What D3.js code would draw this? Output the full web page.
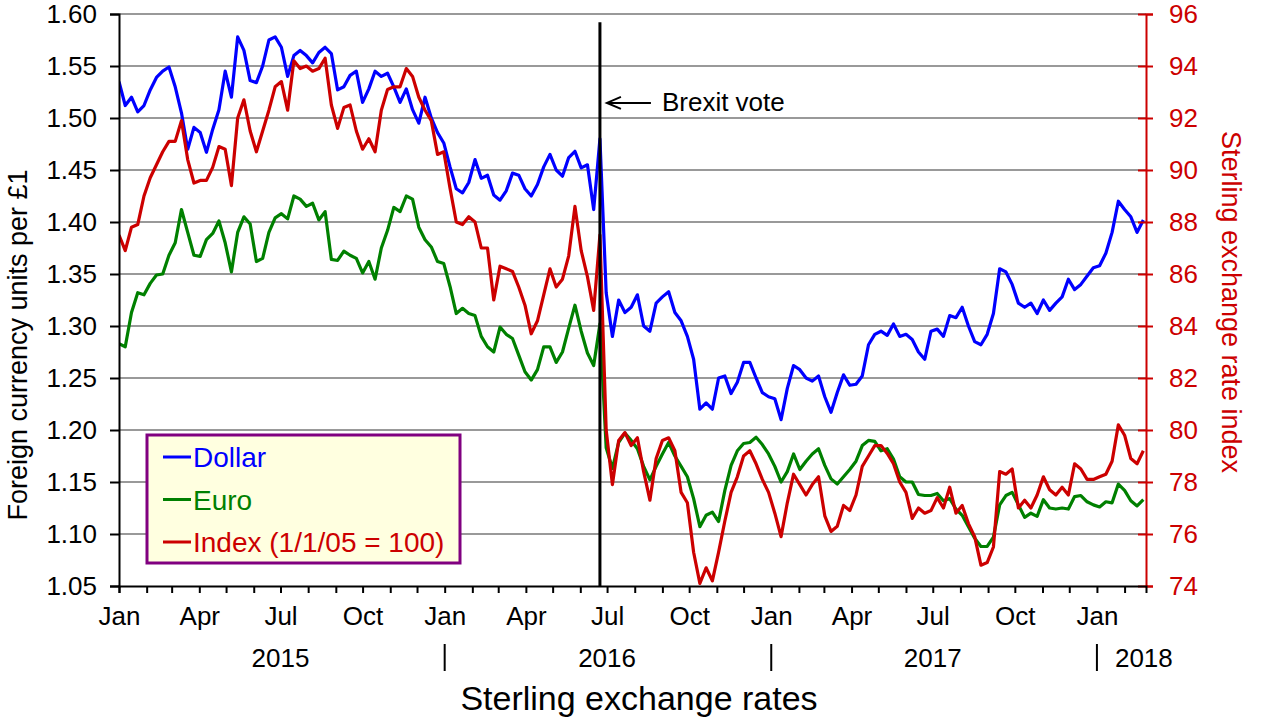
<!DOCTYPE html>
<html>
<head>
<meta charset="utf-8">
<script src="https://cdn.jsdelivr.net/npm/d3@7"></script>
<style>
  body { margin: 0; background: #fff; }
  svg text { font-family: Arial, "Liberation Sans", sans-serif; }
</style>
</head>
<body>
<svg id="chart" width="1280" height="720"></svg>
<script>
// weekly readings (Thursdays) starting 1 Jan 2015
const firstDate = "2015-01-01";
const stepDays = 7;

const dollar = [
  1.535, 1.512, 1.520, 1.506, 1.512, 1.527, 1.539, 1.545, 1.549, 1.530,
  1.505, 1.470, 1.491, 1.486, 1.467, 1.489, 1.508, 1.545, 1.520, 1.578,
  1.565, 1.536, 1.534, 1.550, 1.575, 1.578, 1.568, 1.540, 1.560, 1.565,
  1.560, 1.553, 1.563, 1.568, 1.562, 1.527, 1.530, 1.541, 1.545, 1.515,
  1.528, 1.545, 1.540, 1.543, 1.530, 1.515, 1.528, 1.508, 1.495, 1.520,
  1.500, 1.486, 1.476, 1.453, 1.432, 1.428, 1.438, 1.460, 1.442, 1.445,
  1.426, 1.421, 1.430, 1.447, 1.445, 1.432, 1.425, 1.436, 1.453, 1.465,
  1.450, 1.444, 1.462, 1.468, 1.452, 1.455, 1.412, 1.480, 1.332, 1.290,
  1.325, 1.313, 1.318, 1.330, 1.300, 1.295, 1.322, 1.328, 1.333, 1.313,
  1.305, 1.290, 1.268, 1.220, 1.226, 1.220, 1.250, 1.252, 1.235, 1.246,
  1.265, 1.265, 1.250, 1.236, 1.232, 1.230, 1.210, 1.240, 1.262, 1.258,
  1.250, 1.247, 1.252, 1.232, 1.217, 1.236, 1.253, 1.243, 1.244, 1.252,
  1.282, 1.292, 1.295, 1.291, 1.302, 1.290, 1.292, 1.287, 1.275, 1.268,
  1.295, 1.297, 1.290, 1.310, 1.308, 1.318, 1.300, 1.285, 1.282, 1.292,
  1.312, 1.355, 1.352, 1.340, 1.322, 1.318, 1.322, 1.312, 1.325, 1.315,
  1.322, 1.328, 1.345, 1.335, 1.340, 1.348, 1.356, 1.358, 1.370, 1.390,
  1.420, 1.412, 1.405, 1.390, 1.402
];

const euro = [
  1.283, 1.280, 1.313, 1.332, 1.330, 1.341, 1.349, 1.350, 1.368, 1.380,
  1.412, 1.390, 1.368, 1.367, 1.383, 1.389, 1.401, 1.380, 1.352, 1.390,
  1.405, 1.398, 1.362, 1.365, 1.390, 1.404, 1.408, 1.403, 1.425, 1.422,
  1.415, 1.418, 1.402, 1.410, 1.364, 1.363, 1.372, 1.368, 1.365, 1.351,
  1.362, 1.345, 1.375, 1.392, 1.414, 1.410, 1.425, 1.422, 1.395, 1.383,
  1.376, 1.362, 1.360, 1.338, 1.312, 1.317, 1.312, 1.310, 1.290, 1.280,
  1.275, 1.299, 1.292, 1.288, 1.272, 1.256, 1.248, 1.258, 1.280, 1.280,
  1.265, 1.275, 1.298, 1.320, 1.295, 1.274, 1.262, 1.302, 1.183, 1.163,
  1.188, 1.197, 1.190, 1.182, 1.165, 1.152, 1.165, 1.177, 1.188, 1.175,
  1.165, 1.155, 1.134, 1.107, 1.118, 1.121, 1.112, 1.142, 1.166, 1.180,
  1.187, 1.188, 1.193, 1.186, 1.177, 1.165, 1.150, 1.160, 1.177, 1.162,
  1.170, 1.177, 1.182, 1.166, 1.153, 1.148, 1.155, 1.162, 1.170, 1.185,
  1.190, 1.189, 1.180, 1.182, 1.172, 1.155, 1.150, 1.150, 1.138, 1.137,
  1.137, 1.139, 1.132, 1.134, 1.124, 1.118, 1.107, 1.096, 1.088, 1.088,
  1.097, 1.128, 1.137, 1.140, 1.128, 1.116, 1.120, 1.117, 1.133, 1.125,
  1.124, 1.125, 1.124, 1.136, 1.137, 1.131, 1.128, 1.126, 1.131, 1.130,
  1.148, 1.142, 1.132, 1.127, 1.133
];

const sterlingIndex = [
  87.5, 86.9, 87.8, 87.9, 89.0, 89.7, 90.2, 90.7, 91.1, 91.1,
  91.9, 90.4, 89.5, 89.6, 89.6, 90.1, 90.9, 90.8, 89.4, 92.0,
  92.7, 91.5, 90.7, 91.5, 92.3, 93.2, 93.4, 92.3, 94.2, 93.9,
  94.0, 93.8, 93.9, 94.3, 92.5, 91.6, 92.4, 92.5, 91.5, 90.8,
  91.2, 90.7, 92.3, 93.1, 93.2, 93.2, 93.9, 93.6, 92.8, 92.3,
  91.9, 90.6, 90.7, 89.3, 88.0, 87.9, 88.2, 88.0, 87.0, 87.0,
  85.0, 86.3, 86.2, 86.1, 85.5, 84.8, 83.7, 84.2, 85.2, 86.2,
  85.5, 85.8, 86.7, 88.6, 86.9, 85.9, 84.6, 87.5, 80.0, 77.9,
  79.6, 79.9, 79.4, 79.7, 78.4, 77.3, 78.9, 79.6, 79.7, 79.2,
  77.6, 77.2, 75.3, 74.1, 74.7, 74.2, 75.3, 76.5, 77.6, 78.2,
  79.0, 79.2, 78.7, 78.1, 77.6, 76.8, 75.9, 77.2, 78.3, 77.9,
  77.5, 77.9, 78.2, 76.7, 76.1, 76.3, 77.1, 76.9, 77.5, 78.6,
  79.0, 79.4, 79.4, 79.1, 78.7, 78.0, 77.6, 76.6, 77.0, 76.8,
  76.9, 77.4, 77.0, 77.8, 76.8, 77.1, 76.4, 75.9, 74.8, 74.9,
  75.5, 78.4, 78.3, 78.5, 77.0, 77.3, 77.0, 77.5, 78.2, 77.7,
  77.5, 77.8, 77.5, 78.7, 78.5, 78.1, 78.1, 78.2, 78.3, 78.8,
  80.2, 79.8, 78.9, 78.7, 79.2
];

const leftTicks = [1.05, 1.10, 1.15, 1.20, 1.25, 1.30, 1.35, 1.40, 1.45, 1.50, 1.55, 1.60];
const rightTicks = [74, 76, 78, 80, 82, 84, 86, 88, 90, 92, 94, 96];
const quarterNames = ["Jan", "Apr", "Jul", "Oct"];
const yearLabels = ["2015", "2016", "2017", "2018"];
const seriesNames = ["Dollar", "Euro", "Index (1/1/05 = 100)"];
const seriesColors = ["#0000ff", "#008000", "#cc0000"];
const brexitDate = "2016-06-23";
const brexitTop = 1.592;
const brexitArrowLevel = 1.5145;

const settings = {
  left: 119,
  right: 1146,
  top: 14,
  bottom: 586,
  startDate: new Date(2015, 0, 1),
  endDate: new Date(2018, 1, 25),
  gridColor: "#999999",
  axisRed: "#cc0000"
};

const parseDate = d3.timeParse("%Y-%m-%d");
const dates = dollar.map((_, i) => d3.timeDay.offset(parseDate(firstDate), i * stepDays));

const svg = d3.select("#chart");

const x = d3.scaleTime()
  .domain([settings.startDate, settings.endDate])
  .range([settings.left, settings.right]);

const yLeft = d3.scaleLinear()
  .domain([1.05, 1.60])
  .range([settings.bottom, settings.top]);

const yRight = d3.scaleLinear()
  .domain([74, 96])
  .range([settings.bottom, settings.top]);

// horizontal gridlines
svg.append("g")
  .selectAll("line")
  .data(leftTicks.slice(1))
  .join("line")
  .attr("x1", settings.left)
  .attr("x2", settings.right)
  .attr("y1", d => yLeft(d))
  .attr("y2", d => yLeft(d))
  .attr("stroke", settings.gridColor)
  .attr("stroke-width", 2);

// series
svg.append("clipPath")
  .attr("id", "plot-clip")
  .append("rect")
  .attr("x", settings.left)
  .attr("y", settings.top - 2)
  .attr("width", settings.right - settings.left)
  .attr("height", settings.bottom - settings.top + 2);

const lines = [
  { values: dollar, scale: yLeft },
  { values: euro, scale: yLeft },
  { values: sterlingIndex, scale: yRight }
];

const plot = svg.append("g").attr("clip-path", "url(#plot-clip)");

lines.forEach((s, k) => {
  const line = d3.line()
    .x((d, i) => x(dates[i]))
    .y(d => s.scale(d));
  plot.append("path")
    .datum(s.values)
    .attr("fill", "none")
    .attr("stroke", seriesColors[k])
    .attr("stroke-width", 3.2)
    .attr("stroke-linejoin", "round")
    .attr("d", line);
});

// left axis
const leftAxis = svg.append("g")
  .attr("transform", `translate(${settings.left},0)`)
  .call(d3.axisLeft(yLeft)
    .tickValues(leftTicks)
    .tickFormat(d3.format(".2f"))
    .tickSize(9)
    .tickPadding(13));
leftAxis.select(".domain").attr("stroke", "#000").attr("stroke-width", 2);
leftAxis.selectAll(".tick line").attr("stroke", "#000").attr("stroke-width", 2);
leftAxis.selectAll(".tick text")
  .attr("fill", "#000")
  .attr("font-size", 26)
  .attr("font-family", "Arial, 'Liberation Sans', sans-serif");

// right axis
const rightAxis = svg.append("g")
  .attr("transform", `translate(${settings.right},0)`)
  .call(d3.axisRight(yRight)
    .tickValues(rightTicks)
    .tickSize(7)
    .tickPadding(16));
rightAxis.select(".domain").attr("stroke", settings.axisRed).attr("stroke-width", 2);
rightAxis.selectAll(".tick line")
  .attr("x1", -8)
  .attr("stroke", settings.axisRed)
  .attr("stroke-width", 2);
rightAxis.selectAll(".tick text")
  .attr("fill", settings.axisRed)
  .attr("font-size", 26)
  .attr("font-family", "Arial, 'Liberation Sans', sans-serif");

// bottom axis, monthly ticks, quarterly labels
const bottomAxis = svg.append("g")
  .attr("transform", `translate(0,${settings.bottom})`)
  .call(d3.axisBottom(x)
    .ticks(d3.timeMonth.every(1))
    .tickSize(7)
    .tickPadding(14)
    .tickFormat(d => d.getMonth() % 3 === 0 ? quarterNames[d.getMonth() / 3] : ""));
bottomAxis.select(".domain").attr("stroke", "#000").attr("stroke-width", 2);
bottomAxis.selectAll(".tick line").attr("stroke", "#000").attr("stroke-width", 2);
bottomAxis.selectAll(".tick text")
  .attr("fill", "#000")
  .attr("font-size", 26)
  .attr("font-family", "Arial, 'Liberation Sans', sans-serif");

// year labels and separators
const yearGroup = svg.append("g").attr("font-size", 26).attr("fill", "#000");
yearLabels.forEach((label, k) => {
  const yr = +label;
  const isLast = k === yearLabels.length - 1;
  yearGroup.append("text")
    .attr("x", isLast ? x(new Date(yr, 0, 1)) + 18 : x(new Date(yr, 6, 1)))
    .attr("y", 667)
    .attr("text-anchor", isLast ? "start" : "middle")
    .text(label);
  if (k > 0) {
    yearGroup.append("line")
      .attr("x1", x(new Date(yr, 0, 1)))
      .attr("x2", x(new Date(yr, 0, 1)))
      .attr("y1", 644)
      .attr("y2", 671)
      .attr("stroke", "#000")
      .attr("stroke-width", 2);
  }
});

// Brexit vote marker
const bx = x(parseDate(brexitDate));
svg.append("line")
  .attr("x1", bx)
  .attr("x2", bx)
  .attr("y1", yLeft(brexitTop))
  .attr("y2", settings.bottom)
  .attr("stroke", "#000")
  .attr("stroke-width", 3);

const ay = yLeft(brexitArrowLevel);
const arrow = svg.append("g").attr("stroke", "#000").attr("stroke-width", 2).attr("fill", "none");
arrow.append("line").attr("x1", bx + 7).attr("x2", bx + 51).attr("y1", ay).attr("y2", ay);
arrow.append("polyline")
  .attr("points", `${bx + 21},${ay - 6} ${bx + 7},${ay} ${bx + 21},${ay + 6}`);
svg.append("text")
  .attr("x", bx + 62)
  .attr("y", ay + 8)
  .attr("font-size", 26)
  .attr("fill", "#000")
  .text("Brexit vote");

// axis titles
svg.append("text")
  .attr("transform", "translate(27,345) rotate(-90)")
  .attr("text-anchor", "middle")
  .attr("font-size", 27)
  .attr("fill", "#000")
  .text("Foreign currency units per £1");

svg.append("text")
  .attr("transform", "translate(1222,302) rotate(90)")
  .attr("text-anchor", "middle")
  .attr("font-size", 27)
  .attr("fill", settings.axisRed)
  .text("Sterling exchange rate index");

svg.append("text")
  .attr("x", 639)
  .attr("y", 710)
  .attr("text-anchor", "middle")
  .attr("font-size", 34)
  .attr("fill", "#000")
  .text("Sterling exchange rates");

// legend
const legend = svg.append("g");
legend.append("rect")
  .attr("x", 147)
  .attr("y", 435)
  .attr("width", 313)
  .attr("height", 128)
  .attr("fill", "#ffffe0")
  .attr("stroke", "#800080")
  .attr("stroke-width", 3);

seriesNames.forEach((name, k) => {
  const ly = 457 + k * 42.5;
  legend.append("line")
    .attr("x1", 163)
    .attr("x2", 191)
    .attr("y1", ly)
    .attr("y2", ly)
    .attr("stroke", seriesColors[k])
    .attr("stroke-width", 3);
  legend.append("text")
    .attr("x", 193)
    .attr("y", ly + 10)
    .attr("font-size", 28)
    .attr("fill", seriesColors[k])
    .text(name);
});
</script>
</body>
</html>
